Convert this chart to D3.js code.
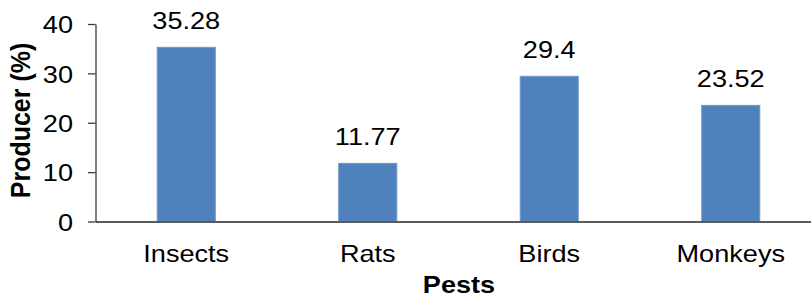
<!DOCTYPE html>
<html lang="en">

<head>
    <meta charset="UTF-8">
    <title>Pests</title>
    <script src="https://cdn.jsdelivr.net/npm/d3@7"></script>
    <style>
        * {
            margin: 0;
        }

        body {
            background: #fff;
        }

        text {
            font-family: "Liberation Sans", Arial, sans-serif;
            fill: #000;
        }
    </style>
</head>

<body>
    <div id="chart"></div>
    <script>
        // data
        var categories = ["Insects", "Rats", "Birds", "Monkeys"];
        var values = [35.28, 11.77, 29.4, 23.52];
        var valueLabels = ["35.28", "11.77", "29.4", "23.52"];
        var yTicks = [0, 10, 20, 30, 40];

        var w = 811;
        var h = 299;
        var stretch = 1.13; // the source text looks a bit wide

        var svg = d3.select("#chart")
            .append("svg")
            .attr("width", w)
            .attr("height", h);

        var x = d3.scaleBand()
            .domain(categories)
            .range([95.5, 821.5])
            .paddingInner(0.68)
            .paddingOuter(0.34);

        var y = d3.scaleLinear()
            .domain([0, 40])
            .range([221.5, 24]);

        // bars
        svg.selectAll("rect.bar")
            .data(values)
            .enter()
            .append("rect")
            .attr("class", "bar")
            .attr("x", function (d, i) { return x(categories[i]); })
            .attr("y", function (d) { return y(d); })
            .attr("width", x.bandwidth())
            .attr("height", function (d) { return y(0) - y(d); })
            .attr("fill", "#4f81bd")
            .attr("stroke", "#6f97c9")
            .attr("stroke-width", 1);

        // value labels
        svg.selectAll("text.val")
            .data(values)
            .enter()
            .append("text")
            .attr("class", "val")
            .attr("transform", function (d, i) {
                return "translate(" + (x(categories[i]) + x.bandwidth() / 2) + "," + (y(d) - 18.5) + ") scale(" + stretch + ",1)";
            })
            .attr("text-anchor", "middle")
            .style("font-size", "24px")
            .text(function (d, i) { return valueLabels[i]; });

        // x axis
        var xAxis = svg.append("g")
            .attr("transform", "translate(0," + y(0) + ")")
            .call(d3.axisBottom(x).tickSize(0).tickSizeOuter(0));
        xAxis.select(".domain")
            .attr("stroke", "#5a5a5a")
            .attr("stroke-width", 2);
        xAxis.selectAll(".tick text")
            .attr("y", 0)
            .attr("dy", 0)
            .attr("transform", "translate(0,40.5) scale(" + stretch + ",1)")
            .style("font-size", "24px")
            .style("font-family", null)
            .attr("fill", "#000");
        xAxis.attr("font-family", null).attr("font-size", null);

        // y axis
        var yAxis = svg.append("g")
            .attr("transform", "translate(95.5,0)")
            .call(d3.axisLeft(y).tickValues(yTicks).tickSize(7.5).tickSizeOuter(0));
        yAxis.attr("font-family", null).attr("font-size", null);
        yAxis.select(".domain")
            .attr("stroke", "#3a3a3a")
            .attr("stroke-width", 1.3);
        yAxis.selectAll(".tick line")
            .attr("stroke", "#3a3a3a")
            .attr("stroke-width", 1.3);
        yAxis.selectAll(".tick text")
            .attr("x", 0)
            .attr("dy", "0.36em")
            .attr("transform", "translate(-22.5,0) scale(" + stretch + ",1)")
            .style("font-size", "24px")
            .attr("fill", "#000");

        // axis titles
        svg.append("text")
            .attr("transform", "translate(459,293) scale(" + stretch + ",1)")
            .attr("text-anchor", "middle")
            .style("font-size", "24px")
            .style("font-weight", "bold")
            .text("Pests");

        svg.append("text")
            .attr("transform", "translate(29.5,120.5) rotate(-90) scale(1," + stretch + ")")
            .attr("text-anchor", "middle")
            .style("font-size", "25px")
            .style("font-weight", "bold")
            .text("Producer (%)");
    </script>
</body>

</html>
